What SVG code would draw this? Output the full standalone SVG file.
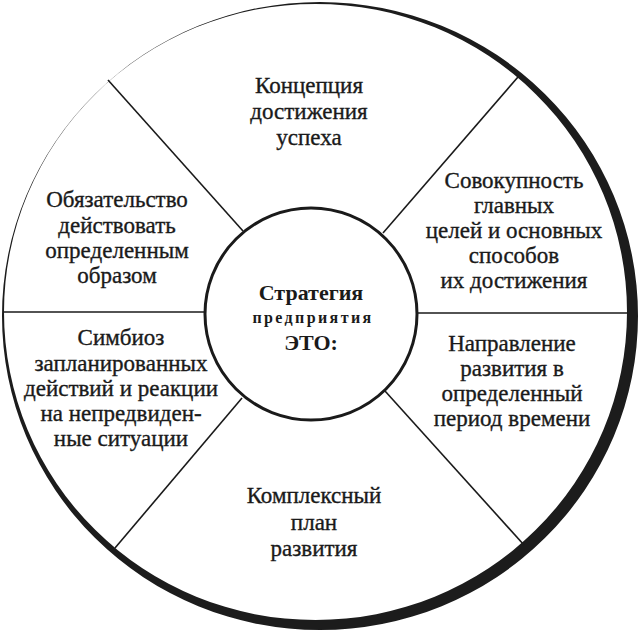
<svg xmlns="http://www.w3.org/2000/svg" width="640" height="638" viewBox="0 0 640 638">
<style>
text{font-family:"Liberation Serif","Times New Roman",serif;font-size:23px;fill:#1a1a1a;stroke:#1a1a1a;stroke-width:0.35;text-anchor:middle}
.c{font-weight:bold;font-size:22px;stroke-width:0}
.s{font-weight:bold;font-size:16px;letter-spacing:2.4px;stroke-width:0}
.ln{stroke:#1a1a1a;stroke-width:1.6;fill:none}
</style>
<rect width="640" height="638" fill="#fff"/>
<g id="ring">
<path fill="#1c1c1c" fill-rule="evenodd" d="M2,316 A318,314 0 1,0 638,316 A318,314 0 1,0 2,316 Z M4,312 A311.5,308 0 1,0 627,312 A311.5,308 0 1,0 4,312 Z"/>
</g>
<g id="connectors">
<line class="ln" x1="3" y1="312" x2="206" y2="312"/>
<line class="ln" x1="416" y1="313" x2="628" y2="313"/>
<line class="ln" x1="108" y1="80" x2="243" y2="231"/>
<line class="ln" x1="518" y1="77" x2="383" y2="233"/>
<line class="ln" x1="242" y1="398" x2="115" y2="548"/>
<line class="ln" x1="385" y1="391" x2="524" y2="545"/>
</g>
<g id="center">
<circle cx="311" cy="314" r="106" fill="#fff" stroke="#1a1a1a" stroke-width="3"/>
<text class="c" x="311" y="300">Стратегия</text>
<text class="s" x="313" y="323">предприятия</text>
<text class="c" x="311" y="350">ЭТО:</text>
</g>
<g id="node-top">
<text x="309" y="93">Концепция</text>
<text x="309" y="119">достижения</text>
<text x="309" y="145">успеха</text>
</g>
<g id="node-upper-right">
<text x="514" y="188">Совокупность</text>
<text x="514" y="213">главных</text>
<text x="514" y="238">целей и основных</text>
<text x="514" y="263">способов</text>
<text x="514" y="288">их достижения</text>
</g>
<g id="node-lower-right">
<text x="512" y="351">Направление</text>
<text x="512" y="376">развития в</text>
<text x="512" y="401">определенный</text>
<text x="512" y="426">период времени</text>
</g>
<g id="node-bottom">
<text x="314" y="503">Комплексный</text>
<text x="314" y="530">план</text>
<text x="314" y="556">развития</text>
</g>
<g id="node-lower-left">
<text x="121" y="345">Симбиоз</text>
<text x="121" y="371">запланированных</text>
<text x="121" y="396">действий и реакции</text>
<text x="121" y="421">на непредвиден-</text>
<text x="121" y="446">ные ситуации</text>
</g>
<g id="node-upper-left">
<text x="117" y="207">Обязательство</text>
<text x="117" y="233">действовать</text>
<text x="117" y="258">определенным</text>
<text x="117" y="283">образом</text>
</g>
</svg>
